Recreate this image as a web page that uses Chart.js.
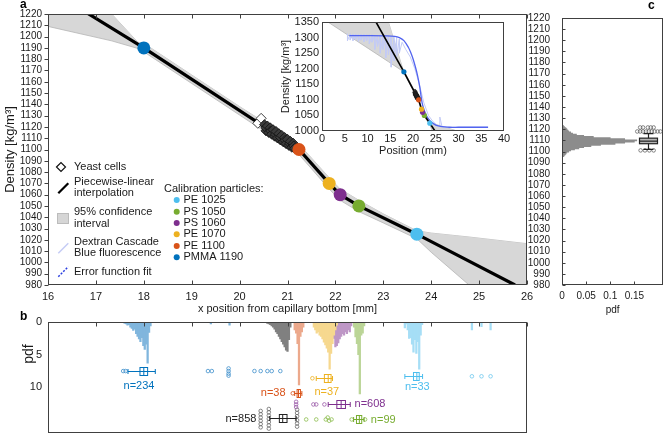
<!DOCTYPE html>
<html>
<head>
<meta charset="utf-8">
<title>Density gradient calibration</title>
<script src="https://cdn.jsdelivr.net/npm/chart.js@4.4.1/dist/chart.umd.min.js"></script>
<style>
  html, body { margin: 0; padding: 0; background: #fff; }
  #fig { position: relative; width: 668px; height: 433px; overflow: hidden; }
  #fig canvas { position: absolute; }
</style>
</head>
<body>
<div id="fig">
  <canvas id="panelA" width="540" height="318" style="left:0;top:0;width:540px;height:318px"></canvas>
  <canvas id="panelC" width="143" height="318" style="left:525px;top:0;width:143px;height:318px"></canvas>
  <canvas id="panelB" width="540" height="128" style="left:0;top:310px;width:540px;height:128px"></canvas>
  <canvas id="inset" width="245" height="150" style="left:270px;top:10px;width:245px;height:150px"></canvas>
</div>
<script>
const FONT = "'Liberation Sans', Arial, sans-serif";
Chart.defaults.font.family = FONT;
Chart.defaults.color = '#1a1a1a';

// --- calibration particles (position in mm, density in kg/m3)
const particleNames = ['PE 1025', 'PS 1050', 'PS 1060', 'PE 1070', 'PE 1100', 'PMMA 1190'];
const particleX = [23.70, 22.49, 22.10, 21.87, 21.24, 18.00];
const particleDensity = [1025, 1050, 1060, 1070, 1100, 1190];
const particleColors = ['#4DBEEE', '#77AC30', '#7E2F8E', '#EDB120', '#D95319', '#0072BD'];

// --- piecewise-linear interpolation
const lineX = [11.87, 18.00, 21.24, 21.87, 22.10, 22.49, 23.70, 25.75];
const lineDensity = [1350, 1190, 1100, 1070, 1060, 1050, 1025, 980];

// --- 95% confidence band
const bandX = [1.3, 14.6, 16, 17.33, 17.875, 18, 19, 20, 20.5, 21, 21.24, 21.5, 21.87, 22.1, 22.49, 23, 23.7, 24, 24.79, 26, 30];
const bandUpper = [2000, 1350, 1283, 1220, 1195, 1194, 1166, 1138, 1124.5, 1111, 1104.5, 1092.5, 1075, 1065, 1055, 1043, 1028, 1026, 1022.5, 1016.6, 998.6];
const bandLower = [1350, 1222.6, 1209, 1196.2, 1189.5, 1186.5, 1158.5, 1130.5, 1116.5, 1102.5, 1095.5, 1083, 1065, 1055, 1045, 1035, 1021, 1009, 980, 936, 790];

// --- yeast cells
const yeastX = [20.38, 20.45, 20.52, 20.55, 20.55, 20.58, 20.61, 20.64, 20.65, 20.67, 20.70, 20.73, 20.75, 20.76, 20.79, 20.82, 20.85, 20.85, 20.88, 20.91, 20.94, 20.95, 20.97, 21.00, 21.03, 21.05, 21.06, 21.09, 21.12, 21.13, 21.15];
const yeastDensity = [1123.2, 1127.6, 1122, 1116.5, 1119.2, 1120.8, 1115, 1119.2, 1116.4, 1113.5, 1117.5, 1111.8, 1113.6, 1116, 1110.2, 1114, 1108.5, 1110.8, 1112.5, 1106.8, 1110.6, 1108.1, 1105.2, 1109, 1103.6, 1105.3, 1107.2, 1102, 1105.5, 1103.1, 1101];

// --- inset: fluorescence profile and error function fit
const fluorX = [5.6, 5.6, 6.2, 6.2, 6.8, 6.8, 7.4, 7.4, 8.0, 8.0, 8.6, 8.6, 9.2, 9.2, 9.8, 9.8, 10.4, 10.4, 11.0, 11.0, 11.6, 11.6, 12.2, 12.2, 12.8, 12.8, 13.4, 13.4, 14.0, 14.0, 14.6, 14.6, 15.2, 15.2, 15.8, 15.8, 16.4, 16.4, 17.0, 17.0, 17.6, 18.4, 19.4, 20.4, 21.4, 22.4, 23.4, 24.4, 25.4, 25.9, 25.9, 26.4, 28, 30, 33, 36.5];
const fluorDensity = [1312, 1290, 1312, 1292, 1311, 1290, 1311, 1294, 1310, 1288, 1310, 1292, 1310, 1286, 1309, 1290, 1309, 1280, 1309, 1285, 1308, 1262, 1308, 1272, 1308, 1250, 1307, 1262, 1306, 1235, 1306, 1245, 1305, 1205, 1304, 1225, 1300, 1240, 1295, 1250, 1285, 1262, 1238, 1200, 1150, 1090, 1050, 1030, 1018, 1014, 1045, 1013, 1012, 1012, 1012, 1012];
const fitX = [6, 10, 14, 16, 17, 18, 19, 19.5, 20, 20.5, 21, 21.5, 22, 22.5, 23, 23.5, 24, 25, 26, 27, 28, 30, 36.5];
const fitDensity = [1306, 1306, 1305.5, 1304, 1300, 1290, 1268, 1252, 1232, 1207, 1178, 1140, 1090, 1065, 1048, 1037, 1029, 1019, 1015, 1013, 1012, 1012, 1012];

// --- panel b histograms (pdf), bins of 0.03 mm
const binWidth = 0.03;
const pmmaHistStart = 17.60, pmmaHist = [0.2, 0.3, 0.5, 0.4, 0.8, 1.0, 1.3, 1.1, 1.8, 2.2, 2.6, 3.0, 2.4, 3.6, 4.2, 3.4, 6.3, 1.6, 0.6];
const pmmaStrayX = [19.40, 19.79], pmmaStrayPdf = [0.3, 0.5];
const yeastHistStart = 20.58, yeastHist = [0.2, 0.3, 0.4, 0.6, 0.8, 1.1, 1.5, 1.8, 2.2, 2.6, 3.0, 3.4, 3.8, 4.3, 4.5, 2.7, 0.8];
const pe1100HistStart = 21.15, pe1100Hist = [1.2, 1.7, 3.3, 9.6, 2.2, 1.5, 0.8];
const pe1070HistStart = 21.55, pe1070Hist = [0.8, 1.2, 1.7, 1.5, 2.0, 2.2, 2.6, 3.1, 3.5, 4.0, 4.6, 7.2, 4.8, 3.3, 2.0, 1.2, 0.5];
const ps1060HistStart = 21.97, ps1060Hist = [2.5, 3.8, 3.6, 3.2, 2.6, 2.2, 1.8, 2.0, 1.5, 1.8, 1.2, 1.5, 0.6];
const ps1050HistStart = 22.39, ps1050Hist = [0.8, 2.3, 3.3, 5.0, 11.0, 2.0, 1.7, 0.6];
const pe1025HistStart = 23.45, pe1025Hist = [0.9, 0.3, 1.2, 2.5, 2.4, 3.4, 4.6, 2.7, 4.8, 3.0, 7.2, 2.0, 0.4];
const pe1025StrayX = [24.85, 25.05, 25.24], pe1025StrayPdf = [1.2, 0.7, 1.2];

// --- panel b box plots (x in mm), one entry per group
const boxNames = ['PMMA 1190', 'PE 1100', 'PE 1070', 'PS 1060', 'PS 1050', 'Yeast cells', 'PE 1025'];
const boxLevel = [7.5, 10.9, 8.6, 12.6, 14.9, 14.7, 8.3];
const boxMin = [17.67, 21.15, 21.60, 21.85, 22.38, 20.63, 23.45];
const boxQ1 = [17.92, 21.20, 21.77, 22.03, 22.44, 20.83, 23.63];
const boxMedian = [18.00, 21.23, 21.85, 22.12, 22.50, 20.90, 23.70];
const boxQ3 = [18.08, 21.27, 21.91, 22.21, 22.55, 20.99, 23.75];
const boxMax = [18.24, 21.30, 21.94, 22.31, 22.60, 21.18, 23.82];
const boxN = [234, 38, 37, 608, 99, 858, 33];
const boxColors = ['#0072BD', '#D95319', '#EDB120', '#7E2F8E', '#77AC30', '#222222', '#4DBEEE'];
const nLabelX = [17.9, 20.96, 21.82, 22.40, 22.74, 20.35, 23.71];
const nLabelY = [9.85, 10.9, 10.76, 12.57, 14.93, 14.77, 10.0];
const nLabelAlign = ['center', 'right', 'center', 'left', 'left', 'right', 'center'];

const pmmaOutliers = [[17.57, 7.5], [17.62, 7.5], [19.34, 7.5], [19.42, 7.5], [19.77, 7.1], [19.77, 7.5], [19.77, 7.9], [19.77, 8.2], [20.31, 7.5], [20.44, 7.5], [20.58, 7.5], [20.67, 7.5], [20.85, 7.5]];
const pe1100Outliers = [[21.11, 10.9]];
const pe1070Outliers = [[21.52, 8.6]];
const ps1060Outliers = [[21.18, 12.2], [21.18, 12.6], [21.18, 13.0], [21.54, 12.6], [21.60, 12.6], [21.77, 12.6]];
const ps1050Outliers = [[21.39, 14.9], [21.60, 14.9], [21.80, 14.9], [21.84, 14.6], [21.87, 15.1], [21.92, 14.9], [22.34, 14.9], [22.62, 14.9]];
const yeastOutliers = [[20.44, 13.6], [20.44, 14.1], [20.44, 14.6], [20.44, 15.1], [20.44, 15.6], [20.44, 16.1], [20.61, 13.3], [20.61, 13.8], [20.61, 14.3], [20.61, 14.8], [20.61, 15.3], [20.61, 15.8], [20.61, 16.3], [21.20, 13.4], [21.20, 13.9], [21.20, 14.4], [21.20, 15.0], [21.20, 15.5], [21.20, 16.0]];
const pe1025Outliers = [[24.85, 8.3], [25.05, 8.3], [25.24, 8.3]];

// --- panel c: yeast density distribution
const densityBins = [1096, 1097, 1098, 1099, 1100, 1101, 1102, 1103, 1104, 1105, 1106, 1107, 1108, 1109, 1110, 1111, 1112, 1113, 1114, 1115, 1116, 1117, 1118, 1119, 1120, 1121, 1122, 1123];
const densityPdf = [0.004, 0.006, 0.008, 0.010, 0.014, 0.018, 0.026, 0.035, 0.045, 0.060, 0.080, 0.110, 0.130, 0.150, 0.155, 0.130, 0.100, 0.065, 0.045, 0.030, 0.022, 0.018, 0.014, 0.012, 0.010, 0.008, 0.005, 0.003];
const yeastBoxPos = 0.178;
const yeastBoxStats = [1102, 1107, 1109.3, 1112, 1116];
const yeastBoxOutliers = [[0.162, 1121.6], [0.168, 1121.6], [0.178, 1121.6], [0.184, 1121.6], [0.190, 1121.6],
  [0.156, 1118], [0.162, 1118], [0.168, 1118], [0.174, 1118], [0.180, 1118], [0.186, 1118], [0.192, 1118], [0.198, 1118], [0.204, 1118],
  [0.163, 1101], [0.172, 1101], [0.181, 1101], [0.190, 1101]];

// --- ticks
const mmTicks = [16, 17, 18, 19, 20, 21, 22, 23, 24, 25, 26];
const densityTicks = [980, 990, 1000, 1010, 1020, 1030, 1040, 1050, 1060, 1070, 1080, 1090, 1100, 1110, 1120, 1130, 1140, 1150, 1160, 1170, 1180, 1190, 1200, 1210, 1220];
const insetXTicks = [0, 5, 10, 15, 20, 25, 30, 35, 40];
const insetYTicks = [1000, 1050, 1100, 1150, 1200, 1250, 1300, 1350];
const pdfTicksB = [0, 5, 10];
const pdfTicksC = [0, 0.05, 0.1, 0.15];

// helpers
const pts = (xs, ys) => xs.map((x, i) => ({ x: x, y: ys[i] }));
const pairs = arr => arr.map(p => ({ x: p[0], y: p[1] }));
const histPts = (start, h) => h.map((v, i) => ({ x: +(start + i * binWidth).toFixed(3), y: v }));
const setTicks = list => s => { s.ticks = list.map(v => ({ value: v })); };

// frame with inner/outer tick marks
function frame(id, cfg) {
  return {
    id: id,
    afterDatasetsDraw(chart) {
      const { ctx, chartArea: a, scales } = chart;
      const L = cfg.len || 4;
      const l = Math.round(a.left) + 0.5, t = Math.round(a.top) + 0.5;
      const r = Math.round(a.right) - 0.5, b = Math.round(a.bottom) - 0.5;
      ctx.save();
      ctx.strokeStyle = '#404040';
      ctx.lineWidth = 1;
      ctx.strokeRect(l, t, r - l, b - t);
      ctx.beginPath();
      (cfg.x || []).forEach(v => {
        const px = Math.round(scales.x.getPixelForValue(v)) + 0.5;
        if (cfg.top) { ctx.moveTo(px, t); ctx.lineTo(px, t + L); }
        if (cfg.bottom) { ctx.moveTo(px, b); ctx.lineTo(px, b - L); }
      });
      (cfg.y || []).forEach(v => {
        const py = Math.round(scales.y.getPixelForValue(v)) + 0.5;
        if (cfg.out) { ctx.moveTo(l - L, py); ctx.lineTo(l, py); }
        else { ctx.moveTo(l, py); ctx.lineTo(l + L, py); }
      });
      ctx.stroke();
      ctx.restore();
    }
  };
}

// free text drawn on the canvas
function texts(id, items) {
  return {
    id: id,
    afterDraw(chart) {
      const ctx = chart.ctx;
      items.forEach(t => {
        ctx.save();
        ctx.font = t.font || ('11px ' + FONT);
        ctx.fillStyle = t.color || '#1a1a1a';
        ctx.textAlign = t.align || 'left';
        ctx.textBaseline = t.baseline || 'middle';
        ctx.translate(t.x, t.y);
        if (t.rot) ctx.rotate(t.rot);
        ctx.fillText(t.text, 0, 0);
        ctx.restore();
      });
    }
  };
}

// legend of panel a
const legendA = {
  id: 'legendA',
  afterDraw(chart) {
    const ctx = chart.ctx;
    ctx.save();
    // symbols
    ctx.lineWidth = 1.2; ctx.strokeStyle = '#111'; ctx.fillStyle = '#fff';
    ctx.beginPath();
    ctx.moveTo(56.5, 167); ctx.lineTo(61, 162.5); ctx.lineTo(65.5, 167); ctx.lineTo(61, 171.5); ctx.closePath();
    ctx.fill(); ctx.stroke();
    ctx.lineWidth = 2.2; ctx.strokeStyle = '#000';
    ctx.beginPath(); ctx.moveTo(58.3, 193.3); ctx.lineTo(68.3, 183.3); ctx.stroke();
    ctx.fillStyle = '#d6d6d6'; ctx.strokeStyle = '#bcbcbc'; ctx.lineWidth = 1;
    ctx.fillRect(57.5, 213.5, 11, 10); ctx.strokeRect(57.5, 213.5, 11, 10);
    ctx.strokeStyle = '#c5ccf5'; ctx.lineWidth = 1.5;
    ctx.beginPath(); ctx.moveTo(58.3, 253.3); ctx.lineTo(68.3, 243.3); ctx.stroke();
    ctx.strokeStyle = '#2b3fe0'; ctx.setLineDash([2, 1.5]);
    ctx.beginPath(); ctx.moveTo(58.3, 276.7); ctx.lineTo(68.3, 266.7); ctx.stroke();
    ctx.setLineDash([]);
    // text
    ctx.font = '11px ' + FONT; ctx.fillStyle = '#1a1a1a';
    ctx.textAlign = 'left'; ctx.textBaseline = 'middle';
    const rows = [['Yeast cells', 167], ['Piecewise-linear', 182], ['interpolation', 193],
      ['95% confidence', 212], ['interval', 224], ['Dextran Cascade', 242],
      ['Blue fluorescence', 253], ['Error function fit', 272]];
    rows.forEach(r => ctx.fillText(r[0], 74, r[1]));
    ctx.fillText('Calibration particles:', 164, 189);
    const rowY = [200, 211.7, 223, 234.3, 246, 257.3];
    particleNames.forEach((n, i) => {
      ctx.fillStyle = particleColors[i];
      ctx.beginPath(); ctx.arc(176.7, rowY[i], 3, 0, Math.PI * 2); ctx.fill();
      ctx.fillStyle = '#1a1a1a';
      ctx.fillText(n, 183.5, rowY[i]);
    });
    ctx.font = 'bold 12px ' + FONT; ctx.fillStyle = '#000';
    ctx.textBaseline = 'alphabetic';
    ctx.fillText('a', 20, 8);
    ctx.restore();
  }
};

// box plots of panel b
const boxesB = {
  id: 'boxesB',
  afterDatasetsDraw(chart) {
    const { ctx, scales: { x, y } } = chart;
    const p = v => x.getPixelForValue(v);
    ctx.save();
    boxLevel.forEach((lv, i) => {
      const yc = Math.round(y.getPixelForValue(lv)) + 0.5;
      ctx.strokeStyle = boxColors[i];
      ctx.lineWidth = 1;
      ctx.beginPath();
      ctx.moveTo(p(boxMin[i]), yc); ctx.lineTo(p(boxMax[i]), yc);
      ctx.moveTo(p(boxMin[i]), yc - 2.5); ctx.lineTo(p(boxMin[i]), yc + 2.5);
      ctx.moveTo(p(boxMax[i]), yc - 2.5); ctx.lineTo(p(boxMax[i]), yc + 2.5);
      ctx.moveTo(p(boxMedian[i]), yc - 4); ctx.lineTo(p(boxMedian[i]), yc + 4);
      ctx.stroke();
      ctx.strokeRect(p(boxQ1[i]), yc - 4, p(boxQ3[i]) - p(boxQ1[i]), 8);
      ctx.fillStyle = boxColors[i];
      ctx.font = '11px ' + FONT;
      ctx.textAlign = nLabelAlign[i];
      ctx.textBaseline = 'middle';
      ctx.fillText('n=' + boxN[i], p(nLabelX[i]), y.getPixelForValue(nLabelY[i]));
    });
    ctx.restore();
  }
};

// vertical box plot of panel c
const boxC = {
  id: 'boxC',
  afterDatasetsDraw(chart) {
    const { ctx, scales: { x, y } } = chart;
    const xc = Math.round(x.getPixelForValue(yeastBoxPos)) + 0.5;
    const py = v => y.getPixelForValue(v);
    const s = yeastBoxStats;
    ctx.save();
    ctx.strokeStyle = '#222';
    ctx.lineWidth = 1.2;
    ctx.beginPath();
    ctx.moveTo(xc, py(s[0])); ctx.lineTo(xc, py(s[4]));
    ctx.moveTo(xc - 5, py(s[0])); ctx.lineTo(xc + 5, py(s[0]));
    ctx.moveTo(xc - 5, py(s[4])); ctx.lineTo(xc + 5, py(s[4]));
    ctx.stroke();
    ctx.fillStyle = '#b5b5b5';
    ctx.fillRect(xc - 9, py(s[3]), 18, py(s[1]) - py(s[3]));
    ctx.strokeRect(xc - 9, py(s[3]), 18, py(s[1]) - py(s[3]));
    ctx.beginPath(); ctx.moveTo(xc - 9, py(s[2])); ctx.lineTo(xc + 9, py(s[2])); ctx.stroke();
    ctx.restore();
  }
};

const bandDatasets = () => [
  { data: pts(bandX, bandUpper), borderColor: '#b5b5b5', borderWidth: 0.8, pointRadius: 0, fill: false, order: 10, clip: 0 },
  { data: pts(bandX, bandLower), borderColor: '#b5b5b5', borderWidth: 0.8, pointRadius: 0, fill: '-1', backgroundColor: '#d7d7d7', order: 9, clip: 0 }
];

// ---------- panel a ----------
new Chart(document.getElementById('panelA'), {
  type: 'line',
  data: {
    datasets: bandDatasets().concat([
      { data: pts(lineX, lineDensity), borderColor: '#000', borderWidth: 3.2, pointRadius: 0, order: 5, clip: 0 },
      { data: pts(yeastX, yeastDensity), showLine: false, pointStyle: 'rectRot', pointRadius: 5,
        pointBorderColor: '#111', pointBorderWidth: 0.8,
        pointBackgroundColor: c => c.dataIndex < 2 ? '#fff' : '#3a3a3a', order: 3 },
      { data: pts(particleX, particleDensity), showLine: false, pointRadius: 6.5, pointBorderWidth: 0,
        pointBackgroundColor: particleColors, order: 1 }
    ])
  },
  options: {
    responsive: false, devicePixelRatio: 1, animation: false,
    layout: { padding: { top: 14, right: 13, bottom: 0, left: 0 } },
    plugins: { legend: { display: false }, tooltip: { enabled: false } },
    scales: {
      x: {
        type: 'linear', min: 16, max: 26,
        afterFit: s => { s.height = 33; }, afterBuildTicks: setTicks(mmTicks),
        grid: { display: false, drawTicks: false }, border: { display: false },
        ticks: { font: { size: 11 }, padding: 5, maxRotation: 0 },
        title: { display: true, text: 'x position from capillary bottom [mm]', font: { size: 11 }, padding: { top: 0, bottom: 2 } }
      },
      y: {
        type: 'linear', min: 980, max: 1220,
        afterFit: s => { s.width = 48; }, afterBuildTicks: setTicks(densityTicks),
        grid: { display: false, drawTicks: false }, border: { display: false },
        ticks: { font: { size: 10 }, padding: 6, autoSkip: false, callback: v => String(v) },
        title: { display: true, text: 'Density [kg/m³]', font: { size: 13 }, padding: { top: 3, bottom: 0 } }
      }
    }
  },
  plugins: [frame('frameA', { x: mmTicks, top: true, bottom: true, y: densityTicks, out: true }), legendA]
});

// ---------- inset ----------
new Chart(document.getElementById('inset'), {
  type: 'line',
  data: {
    datasets: bandDatasets().concat([
      { data: pts(fluorX, fluorDensity), borderColor: '#c3cbf6', borderWidth: 1, pointRadius: 0, order: 8, clip: 0 },
      { data: pts(fitX, fitDensity), borderColor: '#5264ef', borderWidth: 1.3, pointRadius: 0, tension: 0.35, order: 7, clip: 0 },
      { data: pts(lineX, lineDensity), borderColor: '#000', borderWidth: 1.6, pointRadius: 0, order: 5, clip: 0 },
      { data: pts(yeastX, yeastDensity), showLine: false, pointStyle: 'rectRot', pointRadius: 2.3,
        pointBorderColor: '#111', pointBorderWidth: 0.5, pointBackgroundColor: '#333', order: 3 },
      { data: pts(particleX, particleDensity), showLine: false, pointRadius: 2.6, pointBorderWidth: 0,
        pointBackgroundColor: particleColors, order: 1 }
    ])
  },
  options: {
    responsive: false, devicePixelRatio: 1, animation: false,
    layout: { padding: { top: 12, right: 11, bottom: 0, left: 0 } },
    plugins: { legend: { display: false }, tooltip: { enabled: false } },
    scales: {
      x: {
        type: 'linear', min: 0, max: 40,
        afterFit: s => { s.height = 29; }, afterBuildTicks: setTicks(insetXTicks),
        grid: { display: false, drawTicks: false }, border: { display: false },
        ticks: { font: { size: 11 }, padding: 1, maxRotation: 0 },
        title: { display: true, text: 'Position (mm)', font: { size: 11 }, padding: { top: 0, bottom: 2 } }
      },
      y: {
        type: 'linear', min: 1000, max: 1350,
        afterFit: s => { s.width = 52; }, afterBuildTicks: setTicks(insetYTicks),
        grid: { display: false, drawTicks: false }, border: { display: false },
        ticks: { font: { size: 11 }, padding: 3, autoSkip: false, callback: v => String(v) },
        title: { display: true, text: 'Density [kg/m³]', font: { size: 11 }, padding: { top: 9, bottom: 0 } }
      }
    }
  },
  plugins: [frame('frameI', {})]
});

// ---------- panel b ----------
const histSet = (data, color) => ({ type: 'bar', data: data, backgroundColor: color, barThickness: 1.6, grouped: false, order: 10 });
const outSet = (arr, color) => ({ type: 'line', data: pairs(arr), showLine: false, pointRadius: 1.8, pointBorderWidth: 0.8,
  pointBorderColor: color, pointBackgroundColor: 'rgba(0,0,0,0)', order: 1 });

new Chart(document.getElementById('panelB'), {
  type: 'bar',
  data: {
    datasets: [
      histSet(histPts(pmmaHistStart, pmmaHist).concat(pts(pmmaStrayX, pmmaStrayPdf)), '#80b6dd'),
      histSet(histPts(yeastHistStart, yeastHist), '#808080'),
      histSet(histPts(pe1100HistStart, pe1100Hist), '#eca98c'),
      histSet(histPts(pe1070HistStart, pe1070Hist), '#f6d88f'),
      histSet(histPts(ps1060HistStart, ps1060Hist), '#be97c6'),
      histSet(histPts(ps1050HistStart, ps1050Hist), '#bbd597'),
      histSet(histPts(pe1025HistStart, pe1025Hist).concat(pts(pe1025StrayX, pe1025StrayPdf)), '#a6def6'),
      outSet(pmmaOutliers, '#3f8fcc'),
      outSet(pe1100Outliers, '#D95319'),
      outSet(pe1070Outliers, '#EDB120'),
      outSet(ps1060Outliers, '#9b5aa8'),
      outSet(ps1050Outliers, '#8cbc4c'),
      outSet(yeastOutliers, '#6a6a6a'),
      outSet(pe1025Outliers, '#6fc8ee')
    ]
  },
  options: {
    responsive: false, devicePixelRatio: 1, animation: false,
    layout: { padding: { top: 12, right: 13, bottom: 0, left: 0 } },
    plugins: { legend: { display: false }, tooltip: { enabled: false } },
    scales: {
      x: { type: 'linear', min: 16, max: 26, offset: false, display: false },
      y: {
        type: 'linear', min: 0, max: 17, reverse: true,
        afterFit: s => { s.width = 48; s.paddingTop = 0; s.paddingBottom = 0; },
        afterBuildTicks: setTicks(pdfTicksB),
        grid: { display: false, drawTicks: false }, border: { display: false },
        ticks: { font: { size: 11 }, padding: 6 }
      }
    }
  },
  plugins: [
    frame('frameB', { x: mmTicks, top: true }),
    boxesB,
    texts('textB', [
      { text: 'pdf', x: 29, y: 44, rot: -Math.PI / 2, align: 'center', font: '14px ' + FONT },
      { text: 'b', x: 20, y: 10, baseline: 'alphabetic', font: 'bold 12px ' + FONT, color: '#000' }
    ])
  ]
});

// ---------- panel c ----------
new Chart(document.getElementById('panelC'), {
  type: 'bar',
  data: {
    datasets: [
      { type: 'bar', data: pts(densityPdf, densityBins), backgroundColor: '#8c8c8c', barThickness: 1.3, grouped: false, order: 10 },
      { type: 'line', data: pairs(yeastBoxOutliers), showLine: false, pointRadius: 1.8, pointBorderWidth: 0.7,
        pointBorderColor: '#555', pointBackgroundColor: 'rgba(0,0,0,0)', order: 1 }
    ]
  },
  options: {
    indexAxis: 'y',
    responsive: false, devicePixelRatio: 1, animation: false,
    layout: { padding: { top: 14, right: 1, bottom: 0, left: 0 } },
    plugins: { legend: { display: false }, tooltip: { enabled: false } },
    scales: {
      x: {
        type: 'linear', min: 0, max: 0.21, offset: false,
        afterFit: s => { s.height = 33; }, afterBuildTicks: setTicks(pdfTicksC),
        grid: { display: false, drawTicks: false }, border: { display: false },
        ticks: { font: { size: 10 }, padding: 5, maxRotation: 0, callback: v => String(v) },
        title: { display: true, text: 'pdf', font: { size: 10 }, padding: { top: 0, bottom: 2 } }
      },
      y: {
        type: 'linear', min: 980, max: 1220, offset: false,
        afterFit: s => { s.width = 37; }, afterBuildTicks: setTicks(densityTicks),
        grid: { display: false, drawTicks: false }, border: { display: false },
        ticks: { font: { size: 10 }, padding: 12, autoSkip: false, callback: v => String(v) }
      }
    }
  },
  plugins: [
    frame('frameC', { x: pdfTicksC, bottom: true, y: densityTicks, len: 3 }),
    boxC,
    texts('textC', [{ text: 'c', x: 123, y: 9, baseline: 'alphabetic', font: 'bold 12px ' + FONT, color: '#000' }])
  ]
});
</script>
</body>
</html>
